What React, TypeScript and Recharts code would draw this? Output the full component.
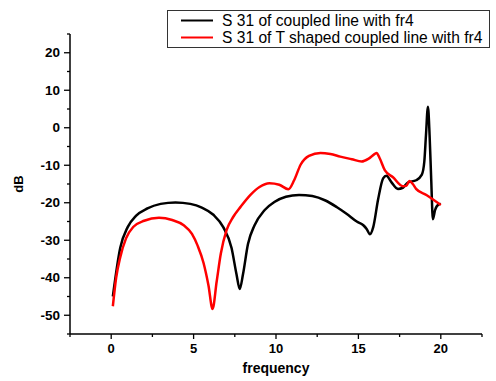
import { Legend, Line, LineChart, XAxis, YAxis } from 'recharts';

// S31 of plain coupled line (black)
const freqCoupled = [
  0.1, 0.55, 1.0, 1.5, 2.2, 3.0, 3.9, 4.8, 5.5, 6.2, 6.8, 7.3, 7.6, 7.8, 8.0, 8.3, 8.7, 9.3, 9.9,
  10.6, 11.4, 12.2, 13.0, 13.7, 14.3, 14.9, 15.3, 15.5, 15.7, 15.9, 16.2, 16.5, 16.7, 17.0, 17.4,
  17.7, 18.0, 18.5, 18.85, 19.0, 19.1, 19.22, 19.32, 19.42, 19.52, 19.65, 19.85, 20.0,
];
const dbCoupled = [
  -45, -32, -26.5, -23.5, -21.5, -20.3, -19.9, -20.3, -21.3, -23.2, -26.5, -32, -39, -43, -39, -31,
  -26, -22, -19.8, -18.4, -17.9, -18.2, -19.4, -21.2, -23, -25, -26, -27, -28.4, -26.5, -19, -13.5,
  -12.8, -14.5, -16.3, -16, -14.6, -14, -12.5, -9, -2, 5.6, -2, -14, -24.4, -22, -20.5, -20.3,
];

// S31 of T shaped coupled line (red)
const freqTShaped = [
  0.1, 0.3, 0.55, 0.9, 1.35, 2.0, 2.9, 3.7, 4.4, 4.9, 5.25, 5.6, 5.9, 6.15, 6.4, 6.65, 7.0, 7.4,
  7.85, 8.45, 9.0, 9.6, 10.2, 10.75, 11.1, 11.5, 12.0, 12.7, 13.3, 13.9, 14.6, 15.2, 15.6, 15.9,
  16.1, 16.3, 16.6, 17.1, 17.7, 17.9, 18.1, 18.3, 18.5, 19.15, 20.0,
];
const dbTShaped = [
  -47.6, -40, -34.5, -29.5, -26.4, -24.8, -24.0, -24.6, -26, -28.3, -31.5, -36, -42, -48.3, -41,
  -33.6, -27.3, -23.8, -21.1, -17.9, -15.8, -14.8, -15.2, -16.4, -14, -9.8, -7.5, -6.7, -7.0, -7.7,
  -8.4, -9.0, -8.3, -7.3, -6.7, -8.2, -11.3, -13.2, -15.6, -15.5, -14.2, -15.0, -16.3, -18.0, -20.6,
];

const xTicks = [-2.5, 0, 2.5, 5, 7.5, 10, 12.5, 15, 17.5, 20, 22.5];
const yTicks = [-55, -50, -45, -40, -35, -30, -25, -20, -15, -10, -5, 0, 5, 10, 15, 20, 25];

const seriesNames = ['S 31 of coupled line with fr4', 'S 31 of T shaped coupled line with fr4'];
const seriesColors = ['#000000', '#ff0000'];

const coupled = freqCoupled.map((f, i) => ({ f, db: dbCoupled[i] }));
const tShaped = freqTShaped.map((f, i) => ({ f, db: dbTShaped[i] }));

const FONT = '"Liberation Sans", Arial, sans-serif';

// tickSize/tickMargin are 0, so x/y here sit right on the axis line
const XTick = (props: any) => {
  const { x, y, payload } = props;
  const major = payload.value % 5 === 0;
  return (
    <g>
      <line x1={x} y1={y} x2={x} y2={y + (major ? 5 : 3)} stroke="#000" strokeWidth={1.3} />
      {major && (
        <text x={x} y={y + 19} textAnchor="middle" fontFamily={FONT} fontWeight="bold" fontSize={13} fill="#000">
          {payload.value}
        </text>
      )}
    </g>
  );
};

const YTick = (props: any) => {
  const { x, y, payload } = props;
  const major = payload.value % 10 === 0;
  return (
    <g>
      <line x1={x} y1={y} x2={x - (major ? 6 : 3)} y2={y} stroke="#000" strokeWidth={1.3} />
      {major && (
        <text x={x - 10} y={y + 4.5} textAnchor="end" fontFamily={FONT} fontWeight="bold" fontSize={13.5} fill="#000">
          {payload.value}
        </text>
      )}
    </g>
  );
};

const LegendBox = () => (
  <div
    style={{
      boxSizing: 'border-box',
      width: 323,
      height: 38,
      border: '1px solid #333',
      background: '#fff',
      fontFamily: FONT,
      fontSize: 15.6,
      color: '#000',
      paddingTop: 1,
    }}
  >
    {seriesNames.map((name, i) => (
      <div key={name} style={{ display: 'flex', alignItems: 'center', height: 17, whiteSpace: 'nowrap' }}>
        <svg width={54} height={17} style={{ flex: 'none' }}>
          <line x1={13} y1={8.5} x2={45} y2={8.5} stroke={seriesColors[i]} strokeWidth={2} />
        </svg>
        <span>{name}</span>
      </div>
    ))}
  </div>
);

export default function App() {
  return (
    <div style={{ position: 'absolute', left: 0, top: 0 }}>
      <LineChart width={496} height={381} margin={{ top: 34, right: 14, left: 0, bottom: 0 }}>
        <XAxis
          dataKey="f"
          type="number"
          domain={[-2.5, 22.5]}
          ticks={xTicks}
          interval={0}
          allowDataOverflow
          height={47}
          tickSize={0}
          tickMargin={0}
          tickLine={false}
          tick={<XTick />}
          axisLine={{ stroke: '#000', strokeWidth: 1.5 }}
          label={{
            value: 'frequency',
            position: 'insideBottom',
            offset: 8,
            style: { fontFamily: FONT, fontWeight: 'bold', fontSize: 14, fill: '#000' },
          }}
        />
        <YAxis
          dataKey="db"
          type="number"
          domain={[-55, 25]}
          ticks={yTicks}
          interval={0}
          allowDataOverflow
          width={70}
          tickSize={0}
          tickMargin={0}
          tickLine={false}
          tick={<YTick />}
          axisLine={{ stroke: '#000', strokeWidth: 1.5 }}
          label={{
            value: 'dB',
            angle: -90,
            position: 'insideLeft',
            offset: 18,
            style: { textAnchor: 'middle', fontFamily: FONT, fontWeight: 'bold', fontSize: 13, fill: '#000' },
          }}
        />
        <Legend
          layout="vertical"
          align="center"
          verticalAlign="middle"
          content={<LegendBox />}
          wrapperStyle={{ top: 10, left: 167, width: 323 }}
        />
        <Line
          data={coupled}
          dataKey="db"
          name={seriesNames[0]}
          type="monotone"
          stroke={seriesColors[0]}
          strokeWidth={2.5}
          dot={false}
          isAnimationActive={false}
        />
        <Line
          data={tShaped}
          dataKey="db"
          name={seriesNames[1]}
          type="monotone"
          stroke={seriesColors[1]}
          strokeWidth={2.5}
          dot={false}
          isAnimationActive={false}
        />
      </LineChart>
    </div>
  );
}
